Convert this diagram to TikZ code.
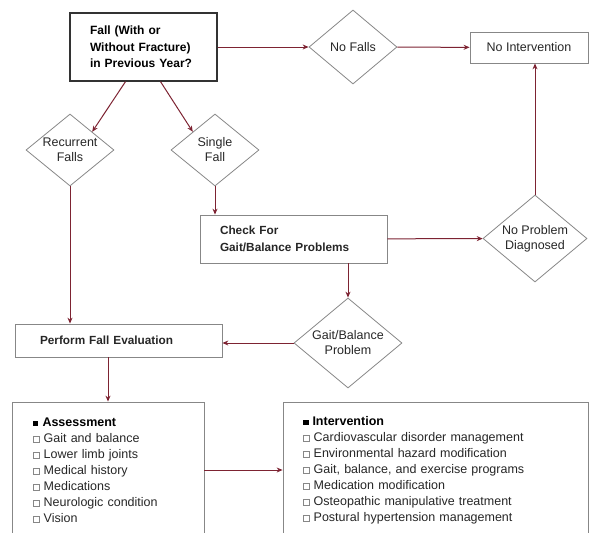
\documentclass[tikz,border=0pt]{standalone}
\usepackage{fontspec}
\setmainfont{Liberation Sans}
\usetikzlibrary{arrows.meta,shapes.geometric}

\definecolor{flowred}{RGB}{125,35,50}
\definecolor{boxgray}{RGB}{135,135,135}
\newcommand{\headsq}{\rule{5.5pt}{5.5pt}\hspace{4pt}}
\newcommand{\itemsq}{{\color{boxgray}\setlength{\fboxsep}{0pt}\setlength{\fboxrule}{0.6pt}\fbox{\rule{0pt}{5.5pt}\hspace{5.5pt}}}\hspace{4pt}}

\begin{document}
\begin{tikzpicture}[x=1pt,y=-1pt,
    box/.style={draw=boxgray, line width=0.8pt, align=left, inner ysep=0pt, text=black!85},
    decision/.style={diamond, draw=boxgray, line width=0.8pt, inner sep=0pt, shape aspect=1.2, align=center, text=black!85, font=\fontsize{12.5}{15}\selectfont},
    flow/.style={-{Stealth[length=6pt,width=5pt]}, draw=flowred, line width=1pt}]

    \useasboundingbox (0,0) rectangle (590,533);

    \node[box, draw=black!80, line width=1.2pt, text=black, text width=107pt, inner xsep=20pt, minimum height=68pt, font=\fontsize{12}{16.5}\selectfont\bfseries] (fall) at (143.5,47) {Fall (With or\\Without Fracture)\\in Previous Year?};
    \node[box, align=center, minimum width=118pt, minimum height=31pt, font=\fontsize{12.5}{15}\selectfont] (nointv) at (529,47.5) {No Intervention};
    \node[box, text width=147pt, inner xsep=20pt, minimum height=48pt, font=\fontsize{11.8}{17}\selectfont\bfseries] (check) at (293.5,239) {Check For\\Gait/Balance Problems};
    \node[box, text width=157pt, inner xsep=25pt, minimum height=33pt, font=\fontsize{11.8}{17}\selectfont\bfseries] (perform) at (118.5,340.5) {Perform Fall Evaluation};

    \node[box, text width=150pt, inner xsep=21pt, minimum height=136pt, font=\fontsize{12.5}{16}\selectfont] (assess) at (108,470) {{\color{black}\headsq\textbf{Assessment}}\\
        \itemsq Gait and balance\\
        \itemsq Lower limb joints\\
        \itemsq Medical history\\
        \itemsq Medications\\
        \itemsq Neurologic condition\\
        \itemsq Vision};
    \node[box, text width=265pt, inner xsep=20pt, minimum height=136pt, font=\fontsize{12.5}{16}\selectfont] (interv) at (435.5,470) {{\color{black}\headsq\textbf{Intervention}}\\
        \itemsq Cardiovascular disorder management\\
        \itemsq Environmental hazard modification\\
        \itemsq Gait, balance, and exercise programs\\
        \itemsq Medication modification\\
        \itemsq Osteopathic manipulative treatment\\
        \itemsq Postural hypertension management};

    \node[decision, minimum width=88pt, minimum height=74pt] (nofalls) at (353,47) {No Falls};
    \node[decision, minimum width=88pt, minimum height=72pt] (recur) at (70,150) {Recurrent\\Falls};
    \node[decision, minimum width=88pt, minimum height=72pt] (single) at (215,150) {Single\\Fall};
    \node[decision, minimum width=104pt, minimum height=87pt] (noprob) at (535,238.5) {No Problem\\Diagnosed};
    \node[decision, minimum width=108pt, minimum height=90pt] (gait) at (348,343) {Gait/Balance\\Problem};

    \draw[flow] (fall) -- (nofalls);
    \draw[flow] (nofalls) -- (nointv);
    \draw[flow] ([xshift=-18pt]fall.south) -- (recur.north east);
    \draw[flow] ([xshift=17pt]fall.south) -- (single.north west);
    \draw[flow] (recur.south) -- (recur.south |- perform.north);
    \draw[flow] (single.south) -- (single.south |- check.north);
    \draw[flow] (check) -- (noprob);
    \draw[flow] (noprob.north) -- (noprob.north |- nointv.south);
    \draw[flow] (gait.north |- check.south) -- (gait.north);
    \draw[flow] (gait.west) -- (gait.west -| perform.east);
    \draw[flow] (assess.north |- perform.south) -- (assess.north);
    \draw[flow] (assess) -- (interv);

\end{tikzpicture}
\end{document}
